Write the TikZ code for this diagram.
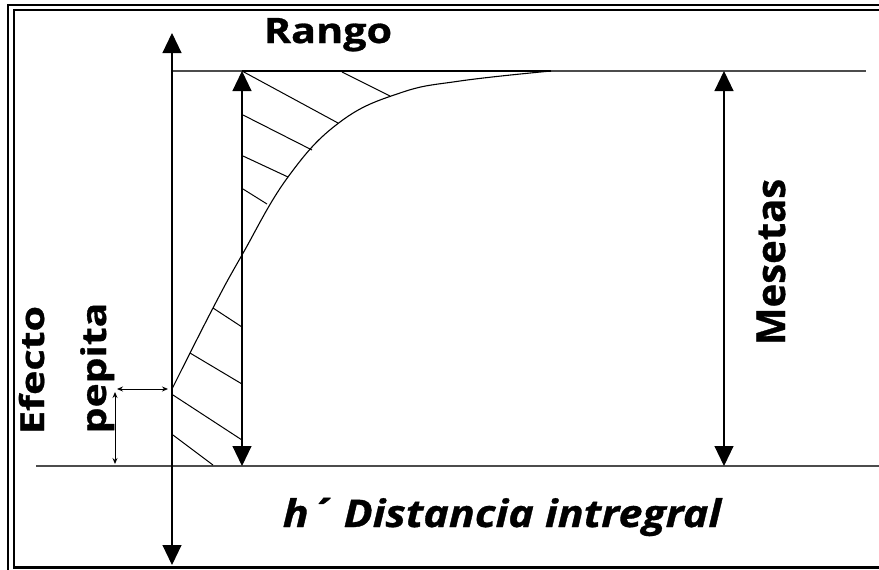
\documentclass[tikz,border=0pt]{standalone}
\usepackage{graphicx}
\usepackage{fontspec}
\setmainfont{Open Sans}[BoldFeatures={FakeBold=0.8},BoldItalicFeatures={FakeBold=0.8}]
\usetikzlibrary{arrows.meta}
\begin{document}
\begin{tikzpicture}[x=1pt,y=-1pt,
  guide/.style={line width=1.3pt, black!70},
  thinline/.style={line width=1.1pt, black},
  bigarrow/.style={line width=1.1pt, {Triangle[length=20pt,width=19pt]}-{Triangle[length=20pt,width=19pt]}},
  smallarrow/.style={line width=0.9pt, {Stealth[length=6pt,width=5pt]}-{Stealth[length=6pt,width=5pt]}},
  hatch/.style={line width=1pt},
  lbl/.style={inner sep=0pt, font=\bfseries}]
\useasboundingbox[fill=white] (0,0) rectangle (879,570);
% frame
\draw[line width=2pt] (8,570) -- (8,5) -- (879,5);
\draw[line width=2pt] (14,567) -- (14,10) -- (879,10);
\draw[line width=3pt] (13,567.5) -- (879,567.5);
% key points
\coordinate (axtop) at (172,33);
\coordinate (axbot) at (172,565);
\coordinate (topL) at (172,71);
\coordinate (topR) at (866,71);
\coordinate (botL) at (36,466);
\coordinate (botR) at (879,466);
\coordinate (inTop) at (242,71);
\coordinate (inBot) at (242,466);
\coordinate (meTop) at (724,71);
\coordinate (meBot) at (724,466);
\coordinate (nug) at (172,389);
\coordinate (nugL) at (117,389);
\coordinate (nugV1) at (115,392);
\coordinate (nugV2) at (115,464);
\coordinate (sill) at (551,71);
% guides
\draw[guide] (topL) -- (topR);
\draw[guide] (botL) -- (botR);
% axes and arrows
\draw[bigarrow] (axbot) -- (axtop);
\draw[bigarrow] (inBot) -- (inTop);
\draw[bigarrow] (meBot) -- (meTop);
\draw[smallarrow] (nugL) -- ([xshift=-4pt]nug);
\draw[smallarrow] (nugV1) -- (nugV2);
% curve
\draw[thinline] plot[smooth, tension=0.7] coordinates {(172,389) (213,308) (242,255) (288,177) (340,122) (400,93) (460,81) (551,71)};
\draw[thinline] (inTop) -- (sill);
% hatches
\draw[hatch] (inTop) -- (338,123);
\draw[hatch] (342,72) -- (390,96);
\draw[hatch] (243,115) -- (312,150);
\draw[hatch] (243,156) -- (288,177);
\draw[hatch] (243,189) -- (267,204);
\draw[hatch] (213,308) -- (242,327);
\draw[hatch] (190,353) -- (242,384);
\draw[hatch] (173,395) -- (242,440);
\draw[hatch] (173,435) -- (213,465);
% labels
\node[lbl, font=\bfseries\fontsize{35}{35}\selectfont, anchor=base] (rango) at (328,43) {\scalebox{1.18}[1]{Rango}};
\node[lbl, font=\bfseries\itshape\fontsize{38}{38}\selectfont, anchor=base] (dist) at (502,527) {\scalebox{1.13}[1]{h´ Distancia intregral}};
\node[lbl, font=\bfseries\fontsize{40}{40}\selectfont, rotate=90, anchor=base] (mes) at (785,262) {Mesetas};
\node[lbl, font=\bfseries\fontsize{33}{33}\selectfont, rotate=90, anchor=base] (efe) at (44,370) {\scalebox{1.25}[1]{Efecto}};
\node[lbl, font=\bfseries\fontsize{34}{34}\selectfont, rotate=90, anchor=base] (pep) at (106,368) {\scalebox{1.2}[1]{pepita}};
\end{tikzpicture}
\end{document}
